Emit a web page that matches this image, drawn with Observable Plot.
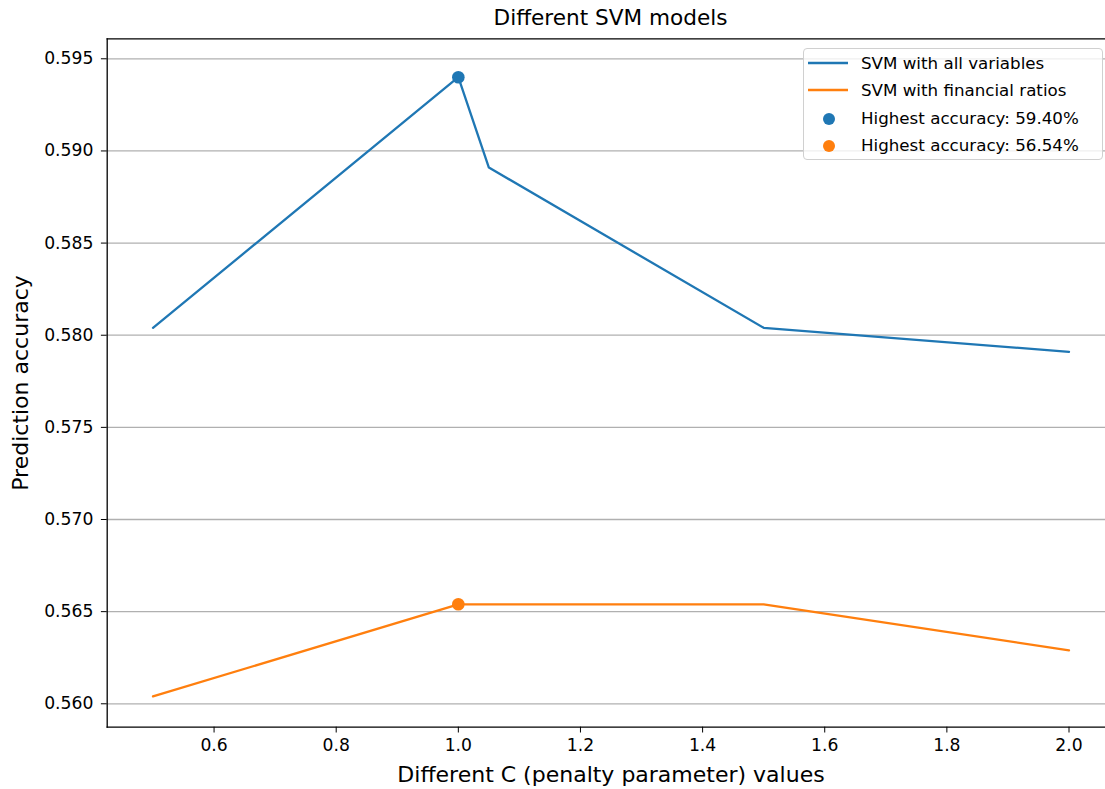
<!DOCTYPE html>
<html><head><meta charset="utf-8">
<script src="https://cdn.jsdelivr.net/npm/d3@7"></script>
<script src="https://cdn.jsdelivr.net/npm/@observablehq/plot@0.6"></script>
<style>
html,body{margin:0;padding:0;background:#fff;overflow:hidden;width:1105px;height:789px}
#wrap{position:relative;width:1105px;height:789px;font-family:"DejaVu Sans",sans-serif;color:#000;overflow:hidden}
#title{position:absolute;left:106.7px;width:1007.6px;top:0;height:36px;text-align:center;font-size:21.6px;line-height:36px;white-space:nowrap}
#chart{position:absolute;left:0;top:36px;width:1116px}
#chart svg{max-width:none !important}
#legend{position:absolute;left:803px;top:48px;width:300px;height:112px;box-sizing:border-box;border:1px solid #d0d0d0;border-radius:4px;background:rgba(255,255,255,0.8);font-size:16.7px}
.row{position:absolute;left:0;height:0;width:100%}
.lbl{position:absolute;left:57px;top:-11px;line-height:22px;white-space:nowrap}
.sw{position:absolute;left:4px;top:-11px}
</style></head><body>
<div id="wrap">
  <div id="title">Different SVM models</div>
  <div id="chart"></div>
  <div id="legend"></div>
</div>
<script>
// ---- data ----
const cAll = [0.5, 1.0, 1.05, 1.5, 2.0];
const accAll = [0.5804, 0.5940, 0.5891, 0.5804, 0.5791];
const cFin = [0.5, 1.0, 1.5, 2.0];
const accFin = [0.5604, 0.5654, 0.5654, 0.5629];
const seriesNames = ["SVM with all variables", "SVM with financial ratios"];
const bestLabels = ["Highest accuracy: 59.40%", "Highest accuracy: 56.54%"];
const colors = ["#1f77b4", "#ff7f0e"];
const xTicks = [0.6, 0.8, 1.0, 1.2, 1.4, 1.6, 1.8, 2.0];
const yTicks = [0.560, 0.565, 0.570, 0.575, 0.580, 0.585, 0.590, 0.595];
const titleText = "Different SVM models";
const xLabel = "Different C (penalty parameter) values";
const yLabel = "Prediction accuracy";

// ---- build ----
const allRows = cAll.map((c, i) => ({c, acc: accAll[i]}));
const finRows = cFin.map((c, i) => ({c, acc: accFin[i]}));
const bestAll = d3.greatest(allRows, d => d.acc);
const bestFin = d3.greatest(finRows, d => d.acc);
const best = [{...bestAll, color: colors[0]}, {...bestFin, color: colors[1]}];

const spine = {stroke: "#000", strokeWidth: 1.3};
const plot = Plot.plot({
  width: 1116,
  height: 753,
  marginTop: 2.3,
  marginBottom: 62.3,
  marginLeft: 106.7,
  marginRight: 1.7,
  x: {domain: [0.425, 2.075]},
  y: {domain: [0.55873, 0.596085]},
  style: {fontFamily: "DejaVu Sans, sans-serif", fontSize: "16.7px", background: "transparent", color: "#000", overflow: "visible", maxWidth: "none"},
  marks: [
    Plot.gridY(yTicks, {stroke: "#b0b0b0", strokeOpacity: 1, strokeWidth: 1.3}),
    Plot.line(allRows, {x: "c", y: "acc", stroke: colors[0], strokeWidth: 2.3}),
    Plot.line(finRows, {x: "c", y: "acc", stroke: colors[1], strokeWidth: 2.3}),
    Plot.dot(best, {x: "c", y: "acc", fill: "color", r: 6.3}),
    Plot.frame({...spine, anchor: "left"}),
    Plot.frame({...spine, anchor: "top"}),
    Plot.frame({...spine, anchor: "bottom"}),
    Plot.axisX(xTicks, {tickFormat: d3.format(".1f"), tickSize: 5.8, tickPadding: 6, fontSize: 17.2, label: null}),
    Plot.axisY(yTicks, {tickFormat: d3.format(".3f"), tickSize: 5.8, tickPadding: 8, fontSize: 17.2, label: null}),
    Plot.text([xLabel], {frameAnchor: "bottom", textAnchor: "middle", lineAnchor: "bottom", text: d => d, dy: 55, fontSize: 22}),
    Plot.text([yLabel], {frameAnchor: "left", textAnchor: "middle", lineAnchor: "middle", text: d => d, rotate: -90, dx: -86, fontSize: 22})
  ]
});
plot.style.maxWidth = "none";
document.getElementById("chart").appendChild(plot);
document.getElementById("title").textContent = titleText;

// legend
const legend = d3.select("#legend");
const rowTops = [14, 41.3, 68.6, 95.9];
const entries = [
  {kind: "line", color: colors[0], text: seriesNames[0]},
  {kind: "line", color: colors[1], text: seriesNames[1]},
  {kind: "dot", color: colors[0], text: bestLabels[0]},
  {kind: "dot", color: colors[1], text: bestLabels[1]}
];
entries.forEach((e, i) => {
  const row = legend.append("div").attr("class", "row").style("top", rowTops[i] + "px");
  const sw = row.append("svg").attr("class", "sw").attr("width", 44).attr("height", 22);
  if (e.kind === "line") {
    sw.append("line").attr("x1", 0).attr("x2", 40).attr("y1", 11).attr("y2", 11)
      .attr("stroke", e.color).attr("stroke-width", 2.3);
  } else {
    sw.append("circle").attr("cx", 21).attr("cy", 12).attr("r", 6).attr("fill", e.color);
  }
  row.append("div").attr("class", "lbl").text(e.text);
});
</script>
</body></html>
